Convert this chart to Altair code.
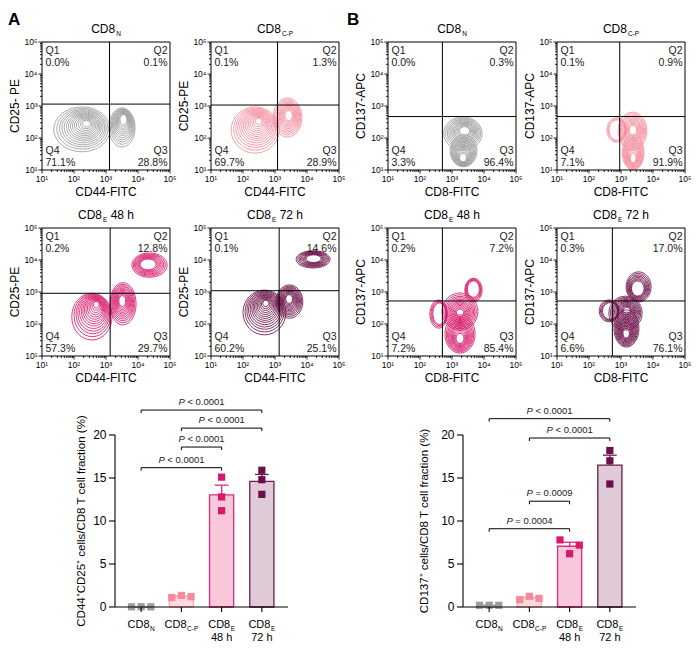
import numpy as np
import pandas as pd
import altair as alt

FONT = "Liberation Sans"
CW, CH = 684, 637            # drawing canvas (page minus the 8px margin)
W = H = 128                  # flow panel plot size
K = W / 4.0                  # pixels per decade
BW, BH = 173, 172            # bar chart plot size
LEVELS = [1.0, 0.91, 0.83, 0.76, 0.69, 0.62, 0.56, 0.50, 0.44, 0.38, 0.32, 0.26, 0.20, 0.14, 0.08]

GRAY, PINK, MAGENTA, PURPLE = "#9b9b9b", "#f48a9b", "#d7186c", "#6b0f47"
PANEL_COLORS = [GRAY, PINK, MAGENTA, PURPLE]

# panel placement (left, top) on the canvas
FLOW_POS_A = [(34, 34), (203, 34), (34, 220), (203, 220)]
FLOW_POS_B = [(380, 34), (549, 34), (380, 220), (549, 220)]
BAR_POS = [(107, 427), (455, 427)]

# contour clusters: (outer cx, outer cy, rx, ry, peak x, peak y, rings) in log10 units
A_CLUSTERS = [
    [(2.25, 2.27, 0.88, 0.70, 2.41, 2.47, 14), (3.50, 2.33, 0.41, 0.61, 3.56, 2.66, 12)],
    [(2.38, 2.25, 0.75, 0.72, 2.50, 2.56, 14), (3.39, 2.64, 0.45, 0.61, 3.44, 2.72, 12)],
    [(2.56, 2.23, 0.63, 0.73, 2.72, 2.66, 14), (3.53, 2.63, 0.41, 0.66, 3.50, 2.75, 12),
     (4.36, 3.84, 0.55, 0.38, 4.28, 3.88, 9)],
    [(2.67, 2.36, 0.67, 0.70, 2.72, 2.69, 14), (3.45, 2.70, 0.42, 0.52, 3.44, 2.81, 12),
     (4.19, 4.02, 0.53, 0.27, 4.22, 4.06, 9)],
]
B_CLUSTERS = [
    [(3.34, 2.14, 0.60, 0.52, 3.41, 2.25, 12), (3.36, 1.60, 0.42, 0.50, 3.34, 1.31, 12)],
    [(3.36, 2.22, 0.45, 0.59, 3.38, 2.25, 12), (3.38, 1.55, 0.34, 0.55, 3.38, 1.31, 12),
     (2.86, 2.25, 0.30, 0.38, 2.95, 2.25, 3)],
    [(3.25, 2.39, 0.56, 0.58, 3.25, 2.34, 13), (3.25, 1.69, 0.47, 0.60, 3.25, 1.50, 12),
     (2.58, 2.31, 0.27, 0.44, 2.70, 2.35, 4), (3.67, 3.06, 0.27, 0.37, 3.66, 3.16, 5)],
    [(3.14, 2.34, 0.52, 0.53, 3.19, 2.44, 13), (3.17, 1.86, 0.39, 0.58, 3.16, 1.66, 12),
     (2.63, 2.41, 0.31, 0.34, 2.75, 2.40, 4), (3.55, 3.16, 0.39, 0.47, 3.50, 3.06, 8)],
]
# quadrant percentages: Q1, Q2, Q3, Q4
A_QUADS = [["0.0%", "0.1%", "28.8%", "71.1%"], ["0.1%", "1.3%", "28.9%", "69.7%"],
           ["0.2%", "12.8%", "29.7%", "57.3%"], ["0.1%", "14.6%", "25.1%", "60.2%"]]
B_QUADS = [["0.0%", "0.3%", "96.4%", "3.3%"], ["0.1%", "0.9%", "91.9%", "7.1%"],
           ["0.2%", "7.2%", "85.4%", "7.2%"], ["0.3%", "17.0%", "76.1%", "6.6%"]]
# quadrant gates (log10 x, log10 y)
A_GATES = [(3.11, 3.06), (3.08, 3.03), (3.13, 2.96), (3.13, 3.04)]
B_GATES = [(2.70, 2.67), (2.96, 2.67), (2.70, 2.72), (2.73, 2.72)]
A_YTITLES = ["CD25- PE", "CD25-PE", "CD25-PE", "CD25-PE"]
TITLE_SUBS = ["N", "C-P", "E", "E"]
TITLE_SUFFIX = ["", "", "48 h", "72 h"]
DECADES = [1, 2, 3, 4, 5]
DECADE_LABELS = ["10¹", "10²", "10³", "10⁴", "10⁵"]
MINOR = [d + float(np.log10(m)) for d in range(1, 5) for m in range(2, 10)]

# bar charts
BAR_FILL = ["#dcdcdc", "#fdd9df", "#f9c7dc", "#dfcad7"]
BAR_STROKE = ["#9b9b9b", "#f7a9b4", "#dc2a78", "#6e1d4d"]
A_POINTS = [[0.02, 0.03, 0.02], [1.1, 1.35, 1.2], [15.1, 12.8, 11.2], [15.9, 14.8, 13.1]]
B_POINTS = [[0.2, 0.2, 0.2], [0.85, 1.24, 1.0], [7.8, 6.2, 7.2], [18.2, 17.0, 14.3]]
A_JITTER = [[-0.24, 0, 0.24], [-0.24, 0, 0.24], [0, 0, 0], [0, 0, 0]]
B_JITTER = [[-0.24, 0, 0.24], [-0.24, 0, 0.24], [-0.24, 0, 0.24], [0, 0, 0]]
A_BRACKETS = [(0, 3, 22.9, "< 0.0001"), (1, 3, 20.8, "< 0.0001"), (1, 2, 18.6, "< 0.0001"), (0, 2, 16.2, "< 0.0001")]
B_BRACKETS = [(0, 3, 21.9, "< 0.0001"), (1, 3, 19.65, "< 0.0001"), (1, 2, 12.3, "= 0.0009"), (0, 2, 9.1, "= 0.0004")]
Y_TICKS = [0, 5, 10, 15, 20]
XB = (-0.65, 3.65)
YB = (0.0, 20.0)
A_BAR_YTITLE = "CD44⁺CD25⁺ cells/CD8 T cell fraction (%)"
B_BAR_YTITLE = "CD137⁺ cells/CD8 T cell fraction (%)"

CWID = {"C": .722, "D": .722, "8": .556, "N": .722, "E": .667, "P": .667, "-": .333, " ": .278,
        "4": .556, "7": .556, "2": .556, "h": .556}


def width(s, size):
    return sum(CWID.get(c, .556) for c in s) * size


def xscale(left, pw, d0, d1):
    k = pw / (d1 - d0)
    return alt.Scale(domain=[d0 - left / k, d0 + (CW - left) / k], nice=False, zero=False)


def yscale(top, ph, d0, d1):
    k = ph / (d1 - d0)
    return alt.Scale(domain=[d1 - (CH - top) / k, d1 + top / k], nice=False, zero=False)


TEXTS = []


def add_text(t, x, y, size, align="left", baseline="alphabetic", style="normal", weight="normal",
             angle=0, color="black"):
    TEXTS.append(dict(t=t, x=x, y=y, size=size, align=align, baseline=baseline, style=style,
                      weight=weight, angle=angle, color=color))


def X(f, sc):
    return alt.X(f, scale=sc, axis=None)


def Y(f, sc):
    return alt.Y(f, scale=sc, axis=None)


def flow_layers(pos, clusters, color, quads, gate, xtitle, ytitle, sub, suffix, label=None, label_dx=0):
    L, T = pos
    xs = xscale(L, W, 1, 5)
    ys = yscale(T, H, 1, 5)
    rows = []
    for (ox, oy, rx, ry, px, py, n) in clusters:
        a = ry / rx
        shape = f"M-1,0A1,{a:.3f},0,1,1,1,0A1,{a:.3f},0,1,1,-1,0Z"
        for f in LEVELS[:n]:
            rows.append({"x": px + (ox - px) * f, "y": py + (oy - py) * f,
                         "s": (2 * rx * f * K) ** 2, "shape": shape})
    contours = alt.Chart(pd.DataFrame(rows)).mark_point(filled=False, strokeWidth=0.85, opacity=1,
                                                        color=color).encode(
        x=X("x:Q", xs), y=Y("y:Q", ys), size=alt.Size("s:Q", scale=None),
        shape=alt.Shape("shape:N", scale=None))
    box = alt.Chart(pd.DataFrame({"x": [1], "x2": [5], "y": [1], "y2": [5]})).mark_rect(
        filled=False, color="black", strokeWidth=1).encode(x=X("x:Q", xs), x2="x2:Q", y=Y("y:Q", ys), y2="y2:Q")
    gates = alt.Chart(pd.DataFrame({"x": [gate[0], 1], "x2": [gate[0], 5], "y": [1, gate[1]],
                                    "y2": [5, gate[1]]})).mark_rule(color="black", strokeWidth=1).encode(
        x=X("x:Q", xs), x2="x2:Q", y=Y("y:Q", ys), y2="y2:Q")
    # ticks: majors 3.5 px, minors 2 px (converted to decades)
    tk = []
    for v in DECADES:
        tk.append(dict(x=v, x2=v, y=1, y2=1 - 3.5 / K))
        tk.append(dict(x=1, x2=1 - 3.5 / K, y=v, y2=v))
    for v in MINOR:
        tk.append(dict(x=v, x2=v, y=1, y2=1 - 2.0 / K))
        tk.append(dict(x=1, x2=1 - 2.0 / K, y=v, y2=v))
    ticks = alt.Chart(pd.DataFrame(tk)).mark_rule(color="black", strokeWidth=0.9).encode(
        x=X("x:Q", xs), x2="x2:Q", y=Y("y:Q", ys), y2="y2:Q")
    ldf_x = pd.DataFrame({"v": DECADES, "b": [1 - 11.5 / K] * 5, "lab": DECADE_LABELS})
    ldf_y = pd.DataFrame({"v": DECADES, "b": [1 - 4.5 / K] * 5, "lab": DECADE_LABELS})
    labx = alt.Chart(ldf_x).mark_text(fontSize=8.5, font=FONT, color="black", align="center",
                                      baseline="alphabetic").encode(x=X("v:Q", xs), y=Y("b:Q", ys), text="lab:N")
    laby = alt.Chart(ldf_y).mark_text(fontSize=8.5, font=FONT, color="black", align="right",
                                      baseline="middle").encode(x=X("b:Q", xs), y=Y("v:Q", ys), text="lab:N")
    # annotations (layout text)
    qc = "#1a1a1a"
    add_text("Q1\n" + quads[0], L + 3.5, T + 12, 10.5, color=qc)
    add_text("Q2\n" + quads[1], L + W - 2.5, T + 12, 10.5, align="right", color=qc)
    add_text("Q3\n" + quads[2], L + W - 2.5, T + 112, 10.5, align="right", color=qc)
    add_text("Q4\n" + quads[3], L + 3.5, T + 112, 10.5, color=qc)
    add_text(xtitle, L + W / 2, T + H + 26, 12, align="center")
    add_text(ytitle, L - 27.3, T + H / 2, 12, align="center", baseline="middle", angle=270)
    w_main = width("CD8", 12)
    w_sub = width(sub, 6.5)
    w_suf = width(" " + suffix, 12) if suffix else 0
    x0 = L + W / 2 - (w_main + 1 + w_sub + w_suf) / 2
    add_text("CD8", x0, T - 8.7, 12)
    add_text(sub, x0 + w_main + 1, T - 6.3, 6.5)
    if suffix:
        add_text(suffix, x0 + w_main + 1 + w_sub + width(" ", 12), T - 8.7, 12)
    if label:
        add_text(label, L + label_dx, T - 17, 17, weight="bold")
    return [contours, box, gates, ticks, labx, laby]


def bar_layers(pos, points, jitter, brackets, ytitle, title_dx):
    L, T = pos
    xs = xscale(L, BW, *XB)
    ys = yscale(T, BH, *YB)
    kx = BW / (XB[1] - XB[0])
    ky = BH / (YB[1] - YB[0])
    rows = []
    for i, vals in enumerate(points):
        m = float(np.mean(vals))
        s = float(np.std(vals, ddof=1) / np.sqrt(len(vals)))
        rows.append(dict(i=i, x0=i - 0.3, x1=i + 0.3, mean=m, zero=0.0, top=m + s,
                         c0=i - 0.17, c1=i + 0.17, fill=BAR_FILL[i], stroke=BAR_STROKE[i]))
    bdf = pd.DataFrame(rows)
    pdf = pd.DataFrame([dict(x=i + jitter[i][k], y=v, pc=PANEL_COLORS[i])
                        for i, vals in enumerate(points) for k, v in enumerate(vals)])
    brk = pd.DataFrame([dict(a=a, b=b, y=y, mid=(a + b) / 2, t=t) for a, b, y, t in brackets])
    seg = []
    for a, b, y, t in brackets:
        seg.append(dict(x=a, x2=b, y=y, y2=y))
        seg.append(dict(x=a, x2=a, y=y, y2=y - 3 / ky))
        seg.append(dict(x=b, x2=b, y=y, y2=y - 3 / ky))
    ax = [dict(x=XB[0], x2=XB[0], y=0, y2=20), dict(x=XB[0], x2=XB[1], y=0, y2=0)]
    for v in Y_TICKS:
        ax.append(dict(x=XB[0], x2=XB[0] - 6 / kx, y=v, y2=v))
    for i in range(4):
        ax.append(dict(x=i, x2=i, y=0, y2=-5 / ky))

    bars = alt.Chart(bdf).mark_rect(strokeWidth=1.3).encode(
        x=X("x0:Q", xs), x2="x1:Q", y=Y("mean:Q", ys), y2="zero:Q",
        fill=alt.Fill("fill:N", scale=None), stroke=alt.Stroke("stroke:N", scale=None))
    err = alt.Chart(bdf).mark_rule(strokeWidth=1.3).encode(
        x=X("i:Q", xs), y=Y("mean:Q", ys), y2="top:Q", color=alt.Color("stroke:N", scale=None))
    cap = alt.Chart(bdf).mark_rule(strokeWidth=1.3).encode(
        x=X("c0:Q", xs), x2="c1:Q", y=Y("top:Q", ys), color=alt.Color("stroke:N", scale=None))
    pts = alt.Chart(pdf).mark_square(size=52, opacity=1).encode(
        x=X("x:Q", xs), y=Y("y:Q", ys), color=alt.Color("pc:N", scale=None))
    axes = alt.Chart(pd.DataFrame(ax)).mark_rule(color="black", strokeWidth=1.1).encode(
        x=X("x:Q", xs), x2="x2:Q", y=Y("y:Q", ys), y2="y2:Q")
    ylabs = alt.Chart(pd.DataFrame({"v": Y_TICKS, "b": [XB[0] - 8.5 / kx] * 5})).mark_text(
        fontSize=12, font=FONT, color="black", align="right", baseline="middle").encode(
        x=X("b:Q", xs), y=Y("v:Q", ys), text="v:Q")
    segs = alt.Chart(pd.DataFrame(seg)).mark_rule(color="black", strokeWidth=1).encode(
        x=X("x:Q", xs), x2="x2:Q", y=Y("y:Q", ys), y2="y2:Q")
    ptxt = alt.Chart(brk).mark_text(align="left", baseline="alphabetic", fontSize=9.5, font=FONT,
                                    fontStyle="italic", color="#222222", dx=-23, dy=-5).encode(
        x=X("mid:Q", xs), y=Y("y:Q", ys), text=alt.value("P"))
    rtxt = alt.Chart(brk).mark_text(align="left", baseline="alphabetic", fontSize=9.5, font=FONT,
                                    color="#222222", dx=-14.1, dy=-5).encode(
        x=X("mid:Q", xs), y=Y("y:Q", ys), text="t:N")
    # category labels and y title (layout text)
    fs, ss = 11, 6.5
    for i in range(4):
        cx = L + (i - XB[0]) * kx
        wm = width("CD8", fs)
        ws = width(TITLE_SUBS[i], ss)
        x0 = cx - (wm + 0.5 + ws) / 2
        add_text("CD8", x0, T + BH + 21, fs)
        add_text(TITLE_SUBS[i], x0 + wm + 0.5, T + BH + 24, ss)
        if TITLE_SUFFIX[i]:
            add_text(TITLE_SUFFIX[i], cx, T + BH + 34, fs, align="center")
    add_text(ytitle, L + title_dx, T + BH / 2, 11.5, align="center", baseline="middle", angle=270)
    return [bars, err, cap, pts, axes, ylabs, segs, ptxt, rtxt]


layers = []
for i in range(4):
    layers += flow_layers(FLOW_POS_A[i], A_CLUSTERS[i], PANEL_COLORS[i], A_QUADS[i], A_GATES[i],
                          "CD44-FITC", A_YTITLES[i], TITLE_SUBS[i], TITLE_SUFFIX[i],
                          label="A" if i == 0 else None, label_dx=-34)
for i in range(4):
    layers += flow_layers(FLOW_POS_B[i], B_CLUSTERS[i], PANEL_COLORS[i], B_QUADS[i], B_GATES[i],
                          "CD8-FITC", "CD137-APC", TITLE_SUBS[i], TITLE_SUFFIX[i],
                          label="B" if i == 0 else None, label_dx=-41)
layers += bar_layers(BAR_POS[0], A_POINTS, A_JITTER, A_BRACKETS, A_BAR_YTITLE, -33)
layers += bar_layers(BAR_POS[1], B_POINTS, B_JITTER, B_BRACKETS, B_BAR_YTITLE, -38)

tdf = pd.DataFrame(TEXTS)
keys = ["size", "align", "baseline", "style", "weight", "angle", "color"]
for key, g in tdf.groupby(keys):
    size, align, baseline, style, weight, angle, color = key
    layers.append(alt.Chart(g[["t", "x", "y"]].reset_index(drop=True)).mark_text(
        fontSize=float(size), align=align, baseline=baseline, fontStyle=style, fontWeight=weight,
        angle=float(angle), color=color, font=FONT, lineBreak="\n", lineHeight=12).encode(
        text="t:N", x=alt.X("x:Q", scale=None, axis=None), y=alt.Y("y:Q", scale=None, axis=None)))

chart = alt.layer(*layers).resolve_scale(x="independent", y="independent").properties(
    width=CW, height=CH, padding=0, autosize=alt.AutoSizeParams(type="none")
).configure_view(stroke="transparent")

chart.save("out.html", embed_options={"renderer": "svg", "actions": False})
